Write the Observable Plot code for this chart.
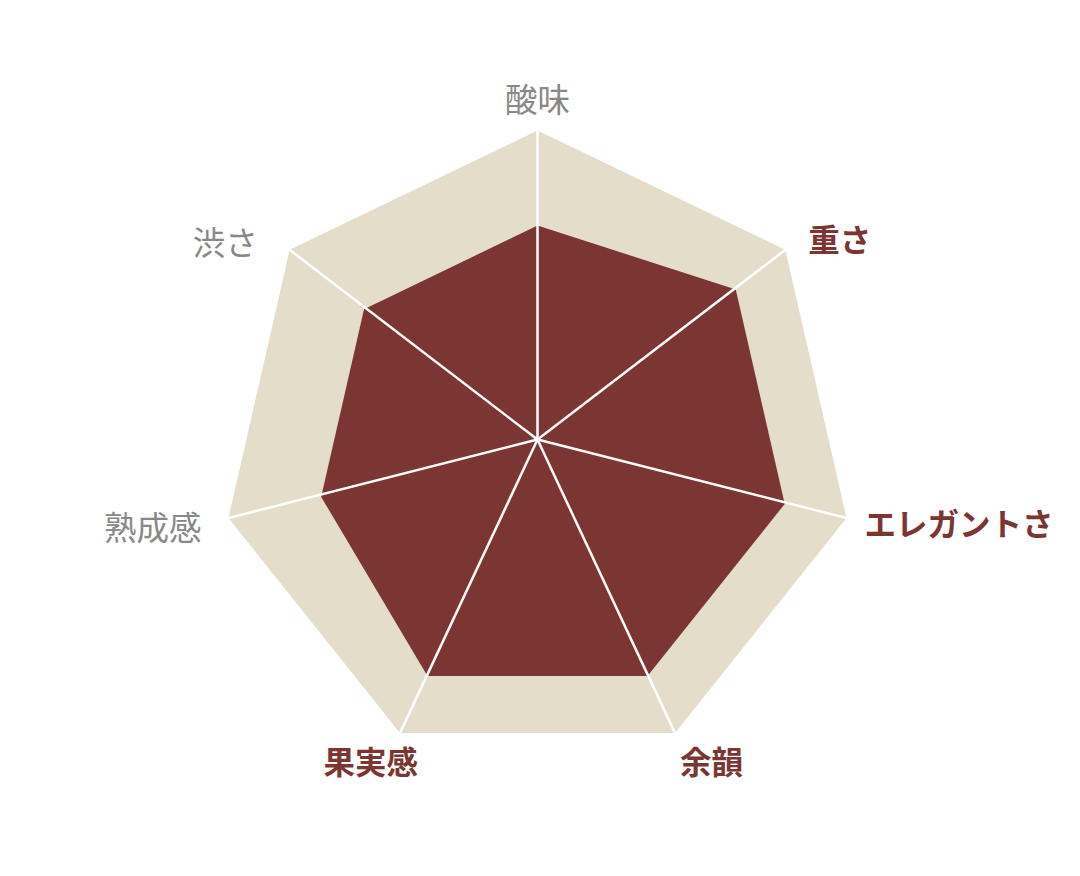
<!DOCTYPE html>
<html><head><meta charset="utf-8">
<script src="https://cdn.jsdelivr.net/npm/d3@7"></script>
<script src="https://cdn.jsdelivr.net/npm/@observablehq/plot@0.6"></script>
<style>body{margin:0;background:#fff}</style>
</head><body><div id="chart"></div>
<script>
// Data
const axesLabels = ["酸味", "重さ", "エレガントさ", "余韻", "果実感", "熟成感", "渋さ"];
const scores = [7, 8, 8, 8, 8, 7, 7];
const maxScore = 10;
const emphasized = [false, true, true, true, true, false, false];

// Layout (label placement relative to each outer vertex)
const labelAnchor = ["middle", "start", "start", "start", "end", "end", "end"];
const labelDx = [0, 23, 18, 5, 18, -27, -32];
const labelDy = [-29, -8, 8, 31, 31, 12, -5];
const hubLift = 0.25;

const W = 1080, H = 876;
const cx = 537, cy = 447, pxPerUnit = 31.7;

const n = axesLabels.length;
const angle = i => 2 * Math.PI * i / n;
const pt = (r, i) => ({x: r * Math.sin(angle(i)), y: r * Math.cos(angle(i))});

const outer = axesLabels.map((name, i) => ({name, ...pt(maxScore, i)}));
const inner = axesLabels.map((name, i) => ({name, ...pt(scores[i], i)}));
const labels = axesLabels.map((name, i) => ({
  name, ...pt(maxScore, i),
  anchor: labelAnchor[i], dx: labelDx[i], dy: labelDy[i], em: emphasized[i]
}));

const textMarks = labels.map(d => Plot.text([d], {
  x: "x", y: "y", text: "name",
  textAnchor: d.anchor, dx: d.dx, dy: d.dy,
  fontSize: d.em ? 31.5 : 32.5,
  fontWeight: d.em ? 700 : 400,
  fill: d.em ? "#7b3533" : "#888888",
  fontFamily: "'Noto Sans CJK JP', sans-serif"
}));

const chart = Plot.plot({
  width: W, height: H,
  margin: 0,
  x: {domain: [-cx / pxPerUnit, (W - cx) / pxPerUnit], range: [0, W], axis: null},
  y: {domain: [-(H - cy) / pxPerUnit, cy / pxPerUnit], range: [H, 0], axis: null},
  style: {fontFamily: "'Noto Sans CJK JP', sans-serif", background: "#fff"},
  marks: [
    Plot.line(outer, {x: "x", y: "y", curve: "linear-closed", fill: "#e3ddca", stroke: "none"}),
    Plot.line(inner, {x: "x", y: "y", curve: "linear-closed", fill: "#7b3533", stroke: "none"}),
    Plot.link(outer, {x1: () => 0, y1: () => hubLift, x2: "x", y2: "y", stroke: "#ffffff", strokeWidth: 2.5}),
    ...textMarks
  ]
});
document.getElementById("chart").appendChild(chart);
</script>
</body></html>
